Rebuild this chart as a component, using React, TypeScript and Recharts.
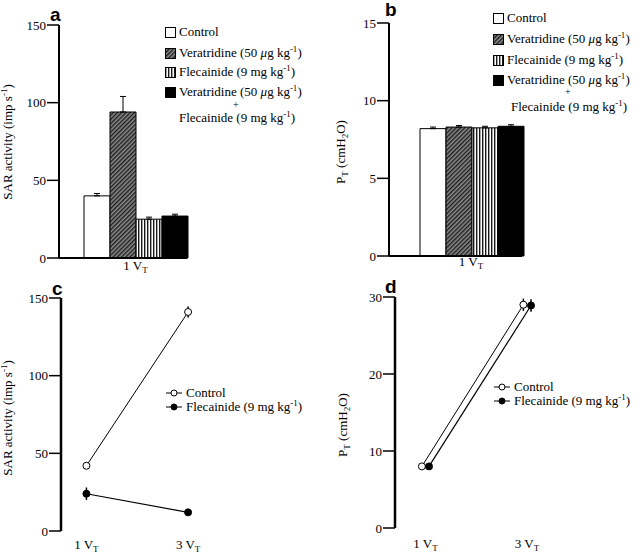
import React from 'react'
import { BarChart, Bar, XAxis, YAxis, ErrorBar, LineChart, Line } from 'recharts'

const SERIF = 'Liberation Serif, Times New Roman, serif'
const SANS = 'Liberation Sans, Arial, sans-serif'

// panels a and b: one tidal volume, four treatment groups
const barCategories = ['1 V_T']
const groupKeys = ['control', 'vera', 'flec', 'combo']
const groupFills = ['#ffffff', 'url(#veraHatch)', 'url(#flecStripe)', '#000000']
const sarBars = [40, 94, 25, 27]
const sarBarErr = [1.5, 10, 1.3, 1.2]
const ptBars = [8.2, 8.3, 8.25, 8.35]
const ptBarErr = [0.1, 0.1, 0.1, 0.1]
const sarTicks = [0, 50, 100, 150]
const ptBarTicks = [0, 5, 10, 15]

// panels c and d: 1 VT and 3 VT
const sarX = [1, 3]
const sarControl = [42, 141]
const sarControlErr = [1.5, 3.5]
const sarFlec = [24, 12]
const sarFlecErr = [4, 1.5]
const ptControlX = [0.93, 2.93]
const ptFlecX = [1.07, 3.08]
const ptControl = [8, 29]
const ptControlErr = [0.3, 0.8]
const ptFlec = [8, 28.9]
const ptFlecErr = [0.3, 0.8]
const ptLineTicks = [0, 10, 20, 30]
const vtTicks = [1, 3]

const barRows = (vals: number[], errs: number[]) =>
  barCategories.map((name) => {
    const row: any = { name }
    groupKeys.forEach((k, i) => {
      row[k] = vals[i]
      row[k + 'Err'] = [0, errs[i]]
    })
    return row
  })

const linePoints = (xs: number[], ys: number[], errs: number[]) =>
  xs.map((x, i) => ({ x, y: ys[i], err: errs[i] }))

const sarBarData = barRows(sarBars, sarBarErr)
const ptBarData = barRows(ptBars, ptBarErr)

const VtTick = ({ x, y, payload, dy }: any) => {
  const raw = typeof payload.value === 'number' ? `${payload.value} V_T` : String(payload.value)
  const [main, sub] = raw.split('_')
  return (
    <text x={x} y={y + dy} textAnchor="middle" fontFamily={SERIF} fontSize={13} fill="#000">
      {main}
      <tspan fontSize={9} dy={3}>{sub}</tspan>
    </text>
  )
}

const sarTitle = (x: number, y: number) => ({
  content: () => (
    <text transform={`translate(${x},${y}) rotate(-90)`} textAnchor="middle" fontFamily={SERIF} fontSize={13} fill="#000">
      SAR activity (imp s<tspan fontSize={9} dy={-5}>-1</tspan>
      <tspan dy={5}>)</tspan>
    </text>
  ),
})

const ptTitle = (x: number, y: number) => ({
  content: () => (
    <text transform={`translate(${x},${y}) rotate(-90)`} textAnchor="middle" fontFamily={SERIF} fontSize={13} fill="#000">
      P<tspan fontSize={9} dy={3}>T</tspan>
      <tspan dy={-3}> (cmH</tspan>
      <tspan fontSize={9} dy={3}>2</tspan>
      <tspan dy={-3}>O)</tspan>
    </text>
  ),
})

const yTick = { fill: '#000', fontSize: 13, fontFamily: SERIF }
const axisStroke = { stroke: '#000', strokeWidth: 2 }

const Sup = ({ children }: any) => (
  <span style={{ fontSize: 9, position: 'relative', top: -5 }}>{children}</span>
)

const barLegendItems = [
  <span>Control</span>,
  <span>Veratridine (50 <i>μ</i>g kg<Sup>-1</Sup>)</span>,
  <span>Flecainide (9 mg kg<Sup>-1</Sup>)</span>,
  <span>Veratridine (50 <i>μ</i>g kg<Sup>-1</Sup>)</span>,
]

const rowStyle: any = {
  position: 'absolute',
  display: 'flex',
  alignItems: 'center',
  fontFamily: SERIF,
  fontSize: 13,
  lineHeight: '14px',
  height: 14,
  whiteSpace: 'nowrap',
}

function BarLegend({ left, top, rows, plusY, lastY, centerX }: any) {
  return (
    <>
      {barLegendItems.map((item, i) => (
        <div key={i} style={{ ...rowStyle, left, top: top + rows[i] - 7 }}>
          <svg width={11} height={11} style={{ marginRight: 3 }}>
            <rect x={0.5} y={0.5} width={10} height={10} fill={groupFills[i]} stroke="#000" />
          </svg>
          {item}
        </div>
      ))}
      <div style={{ position: 'absolute', left: centerX - 4, top: top + plusY - 4, fontFamily: SERIF, fontSize: 10, lineHeight: '8px', height: 8 }}>+</div>
      <div style={{ ...rowStyle, display: 'block', left: centerX - 80, width: 160, textAlign: 'center', top: top + lastY - 7 }}>
        Flecainide (9 mg kg<Sup>-1</Sup>)
      </div>
    </>
  )
}

function LineLegend({ left, top }: any) {
  const rows = [
    { label: <span>Control</span>, fill: '#fff' },
    { label: <span>Flecainide (9 mg kg<Sup>-1</Sup>)</span>, fill: '#000' },
  ]
  return (
    <>
      {rows.map((r, i) => (
        <div key={i} style={{ ...rowStyle, left, top: top + i * 14 - 7 }}>
          <svg width={18} height={8} style={{ marginRight: 3 }}>
            <line x1={1} y1={4} x2={17} y2={4} stroke="#000" />
            <circle cx={9} cy={4} r={3} fill={r.fill} stroke="#000" />
          </svg>
          {r.label}
        </div>
      ))}
    </>
  )
}

function GroupedBars({ data, ticks, domain, yWidth, margin, xHeight, padLeft, tickDy, title }: any) {
  return (
    <BarChart width={320} height={280} data={data} margin={margin} barCategoryGap={0} barGap={0}>
      <XAxis dataKey="name" height={xHeight} padding={{ left: padLeft, right: 0 }} axisLine={axisStroke} tickLine={false} tickSize={0} tickMargin={0} tick={(p: any) => <VtTick {...p} dy={tickDy} />} />
      <YAxis width={yWidth} domain={domain} ticks={ticks} interval={0} axisLine={axisStroke} tickLine={{ stroke: '#000', strokeWidth: 1.5 }} tickSize={12} tickMargin={1} tick={yTick} label={title} />
      {groupKeys.map((k, i) => (
        <Bar key={k} dataKey={k} fill={groupFills[i]} stroke="#000" strokeWidth={1} isAnimationActive={false}>
          <ErrorBar dataKey={k + 'Err'} width={3} stroke="#000" strokeWidth={1} direction="y" />
        </Bar>
      ))}
    </BarChart>
  )
}

function VtLines({ control, flec, domainX, domainY, ticks, yWidth, margin, xHeight, tickDy, title }: any) {
  return (
    <LineChart width={320} height={278} margin={margin}>
      <XAxis dataKey="x" type="number" domain={domainX} ticks={vtTicks} allowDataOverflow height={xHeight} axisLine={false} tickLine={false} tickSize={0} tickMargin={0} tick={(p: any) => <VtTick {...p} dy={tickDy} />} />
      <YAxis width={yWidth} domain={domainY} ticks={ticks} interval={0} axisLine={{ stroke: '#000', strokeWidth: 2.5 }} tickLine={{ stroke: '#000', strokeWidth: 1.5 }} tickSize={12} tickMargin={1} tick={yTick} label={title} />
      <Line data={control} dataKey="y" stroke="#000" strokeWidth={1} dot={{ r: 3.5, fill: '#fff', stroke: '#000', strokeWidth: 1 }} isAnimationActive={false}>
        <ErrorBar dataKey="err" width={0} stroke="#000" strokeWidth={1.5} direction="y" />
      </Line>
      <Line data={flec} dataKey="y" stroke="#000" strokeWidth={1.2} dot={{ r: 3.5, fill: '#000', stroke: '#000', strokeWidth: 1 }} isAnimationActive={false}>
        <ErrorBar dataKey="err" width={0} stroke="#000" strokeWidth={1.5} direction="y" />
      </Line>
    </LineChart>
  )
}

const letter = (ch: string, x: number, y: number) => (
  <text x={x} y={y} fontFamily={SANS} fontWeight="bold" fontSize={19} fill="#000">{ch}</text>
)

export default function App() {
  return (
    <div style={{ position: 'absolute', left: 0, top: 0, width: 640, height: 558, background: '#fff', overflow: 'hidden' }}>
      <svg width={0} height={0} style={{ position: 'absolute' }}>
        <defs>
          <pattern id="veraHatch" patternUnits="userSpaceOnUse" width={3} height={3} patternTransform="rotate(45)">
            <rect width={3} height={3} fill="#8a8a8a" />
            <rect width={1.4} height={3} fill="#1e1e1e" />
          </pattern>
          <pattern id="flecStripe" patternUnits="userSpaceOnUse" width={3} height={3}>
            <rect width={3} height={3} fill="#fff" />
            <rect width={1.4} height={3} fill="#1a1a1a" />
          </pattern>
        </defs>
      </svg>

      <div style={{ position: 'absolute', left: 0, top: 0 }}>
        <GroupedBars data={sarBarData} ticks={sarTicks} domain={[0, 150]} yWidth={59} margin={{ top: 25, right: 133, bottom: 2, left: 0 }} xHeight={20} padLeft={25} tickDy={12} title={sarTitle(12, 142)} />
      </div>
      <div style={{ position: 'absolute', left: 320, top: 0 }}>
        <GroupedBars data={ptBarData} ticks={ptBarTicks} domain={[0, 15]} yWidth={69} margin={{ top: 23, right: 118, bottom: 2, left: 0 }} xHeight={22} padLeft={31} tickDy={10} title={ptTitle(25, 152)} />
      </div>
      <div style={{ position: 'absolute', left: 0, top: 280 }}>
        <VtLines control={linePoints(sarX, sarControl, sarControlErr)} flec={linePoints(sarX, sarFlec, sarFlecErr)} domainX={[0.5, 3.5]} domainY={[0, 150]} ticks={sarTicks} yWidth={61} margin={{ top: 18, right: 106.5, bottom: 2, left: 0 }} xHeight={25} tickDy={18} title={sarTitle(12, 138)} />
      </div>
      <div style={{ position: 'absolute', left: 320, top: 280 }}>
        <VtLines control={linePoints(ptControlX, ptControl, ptControlErr)} flec={linePoints(ptFlecX, ptFlec, ptFlecErr)} domainX={[0.4, 3.6]} domainY={[0, 30]} ticks={ptLineTicks} yWidth={75} margin={{ top: 17, right: 82.6, bottom: 2, left: 0 }} xHeight={28} tickDy={20} title={ptTitle(27, 145)} />
      </div>

      <BarLegend left={165} top={0} rows={[32, 53, 72, 92]} plusY={105} lastY={118} centerX={237} />
      <BarLegend left={493} top={0} rows={[18, 39, 60, 80]} plusY={92} lastY={107} centerX={569} />
      <LineLegend left={165} top={393} />
      <LineLegend left={493} top={387} />

      <svg width={640} height={558} style={{ position: 'absolute', left: 0, top: 0, pointerEvents: 'none' }}>
        {letter('a', 50, 21)}
        {letter('b', 385, 16)}
        {letter('c', 52, 295)}
        {letter('d', 385, 293)}
      </svg>
    </div>
  )
}
